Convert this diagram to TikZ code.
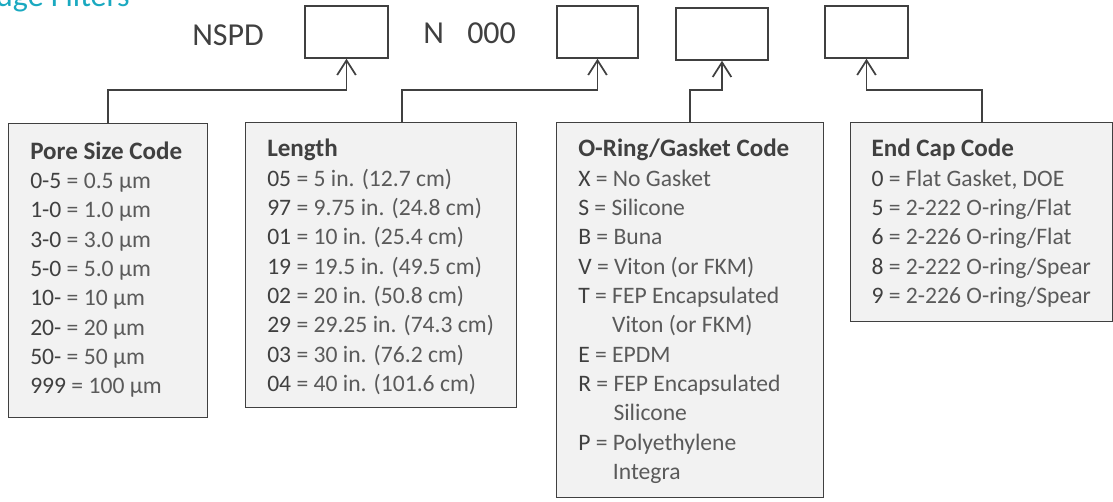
\documentclass[tikz,border=0pt]{standalone}
\usepackage{fontspec}
\setmainfont{Carlito}
\usetikzlibrary{arrows.meta,positioning,calc}
\definecolor{inkgray}{HTML}{404040}
\definecolor{valgray}{HTML}{5A5A5A}
\definecolor{boxfill}{HTML}{F2F2F2}
\definecolor{titleteal}{HTML}{1AA9C0}
\newcommand{\val}[1]{{\color{valgray}#1}}
\newcommand{\hdr}[1]{{\fontsize{18.8pt}{22pt}\selectfont\bfseries #1}}

\begin{document}
\begin{tikzpicture}[x=0.75pt, y=-0.75pt,
    slot/.style={draw=inkgray, line width=1.1pt, minimum width=62pt, minimum height=39pt, inner sep=0},
    listbox/.style={draw=inkgray, fill=boxfill, line width=1.1pt, anchor=north west, inner sep=0},
    listtext/.style={align=left, inner sep=0, anchor=north west, text=inkgray,
        font=\fontsize{17.7pt}{22pt}\selectfont},
    feed/.style={draw=inkgray, line width=1.3pt, -{Straight Barb[length=11pt,width=14pt]}},
    part/.style={anchor=base west, inner sep=0, text=inkgray, font=\fontsize{24pt}{28pt}\selectfont}]
	\useasboundingbox (0,0) rectangle (1113,501);
	% heading, cut at the top edge
	\node[anchor=base east, inner sep=0, text=titleteal, font=\fontsize{24pt}{28pt}\selectfont] (title) at (130,6) {Cartridge Filters};
	% part number line
	\node[part] (nspd) at (192,45) {NSPD};
	\node[part] (nchar) at (423,43) {N};
	\node[part] (zeros) at (467,43) {000};
	\node[slot] (b1) at (346.5,32) {};
	\node[slot, minimum width=61pt] (b2) at (597.5,32) {};
	\node[slot, minimum width=69pt] (b3) at (722,34) {};
	\node[slot] (b4) at (866.5,32) {};
	% code tables
	\node[listbox, minimum width=149.25pt, minimum height=220.5pt] (pore) at (8,123) {};
	\node[listbox, minimum width=203.25pt, minimum height=213.75pt] (len) at (245,122) {};
	\node[listbox, minimum width=200.25pt, minimum height=281.25pt] (oring) at (556,122) {};
	\node[listbox, minimum width=196.5pt, minimum height=149.25pt] (endc) at (850,122) {};
	\node[listtext, below right=11.5pt and 16.5pt of pore.north west] (poretxt) {\strut\hdr{Pore Size Code}\\
		0-5 \val{= 0.5 µm}\\
		1-0 \val{= 1.0 µm}\\
		3-0 \val{= 3.0 µm}\\
		5-0 \val{= 5.0 µm}\\
		10- \val{= 10 µm}\\
		20- \val{= 20 µm}\\
		50- \val{= 50 µm}\\
		999 \val{= 100 µm}};
	\node[listtext, below right=10.5pt and 16.5pt of len.north west] (lentxt) {\strut\hdr{Length}\\
		05 \val{= 5 in. (12.7 cm)}\\
		97 \val{= 9.75 in. (24.8 cm)}\\
		01 \val{= 10 in. (25.4 cm)}\\
		19 \val{= 19.5 in. (49.5 cm)}\\
		02 \val{= 20 in. (50.8 cm)}\\
		29 \val{= 29.25 in. (74.3 cm)}\\
		03 \val{= 30 in. (76.2 cm)}\\
		04 \val{= 40 in. (101.6 cm)}};
	\node[listtext, below right=10.5pt and 16.5pt of oring.north west] (oringtxt) {\strut\hdr{O-Ring/Gasket Code}\\
		X \val{= No Gasket}\\
		S \val{= Silicone}\\
		B \val{= Buna}\\
		V \val{= Viton (or FKM)}\\
		T \val{= FEP Encapsulated}\\
		\phantom{T =}\ \val{Viton (or FKM)}\\
		E \val{= EPDM}\\
		R \val{= FEP Encapsulated}\\
		\phantom{R =}\ \val{Silicone}\\
		P \val{= Polyethylene}\\
		\phantom{P =}\ \val{Integra}};
	\node[listtext, below right=10.5pt and 16pt of endc.north west] (endctxt) {\strut\hdr{End Cap Code}\\
		0 \val{= Flat Gasket, DOE}\\
		5 \val{= 2-222 O-ring/Flat}\\
		6 \val{= 2-226 O-ring/Flat}\\
		8 \val{= 2-222 O-ring/Spear}\\
		9 \val{= 2-226 O-ring/Spear}};
	% connectors
	\coordinate (lvl) at (0,90);
	\coordinate (lenjoin) at ($(len.north west)!0.577!(len.north east)$);
	\draw[feed] (pore.north) -- (pore.north |- lvl) -| (b1.south);
	\draw[feed] (lenjoin) -- (lenjoin |- lvl) -| (b2.south);
	\draw[feed] (oring.north) -- (oring.north |- lvl) -| (b3.south);
	\draw[feed] (endc.north) -- (endc.north |- lvl) -| (b4.south);
\end{tikzpicture}
\end{document}
